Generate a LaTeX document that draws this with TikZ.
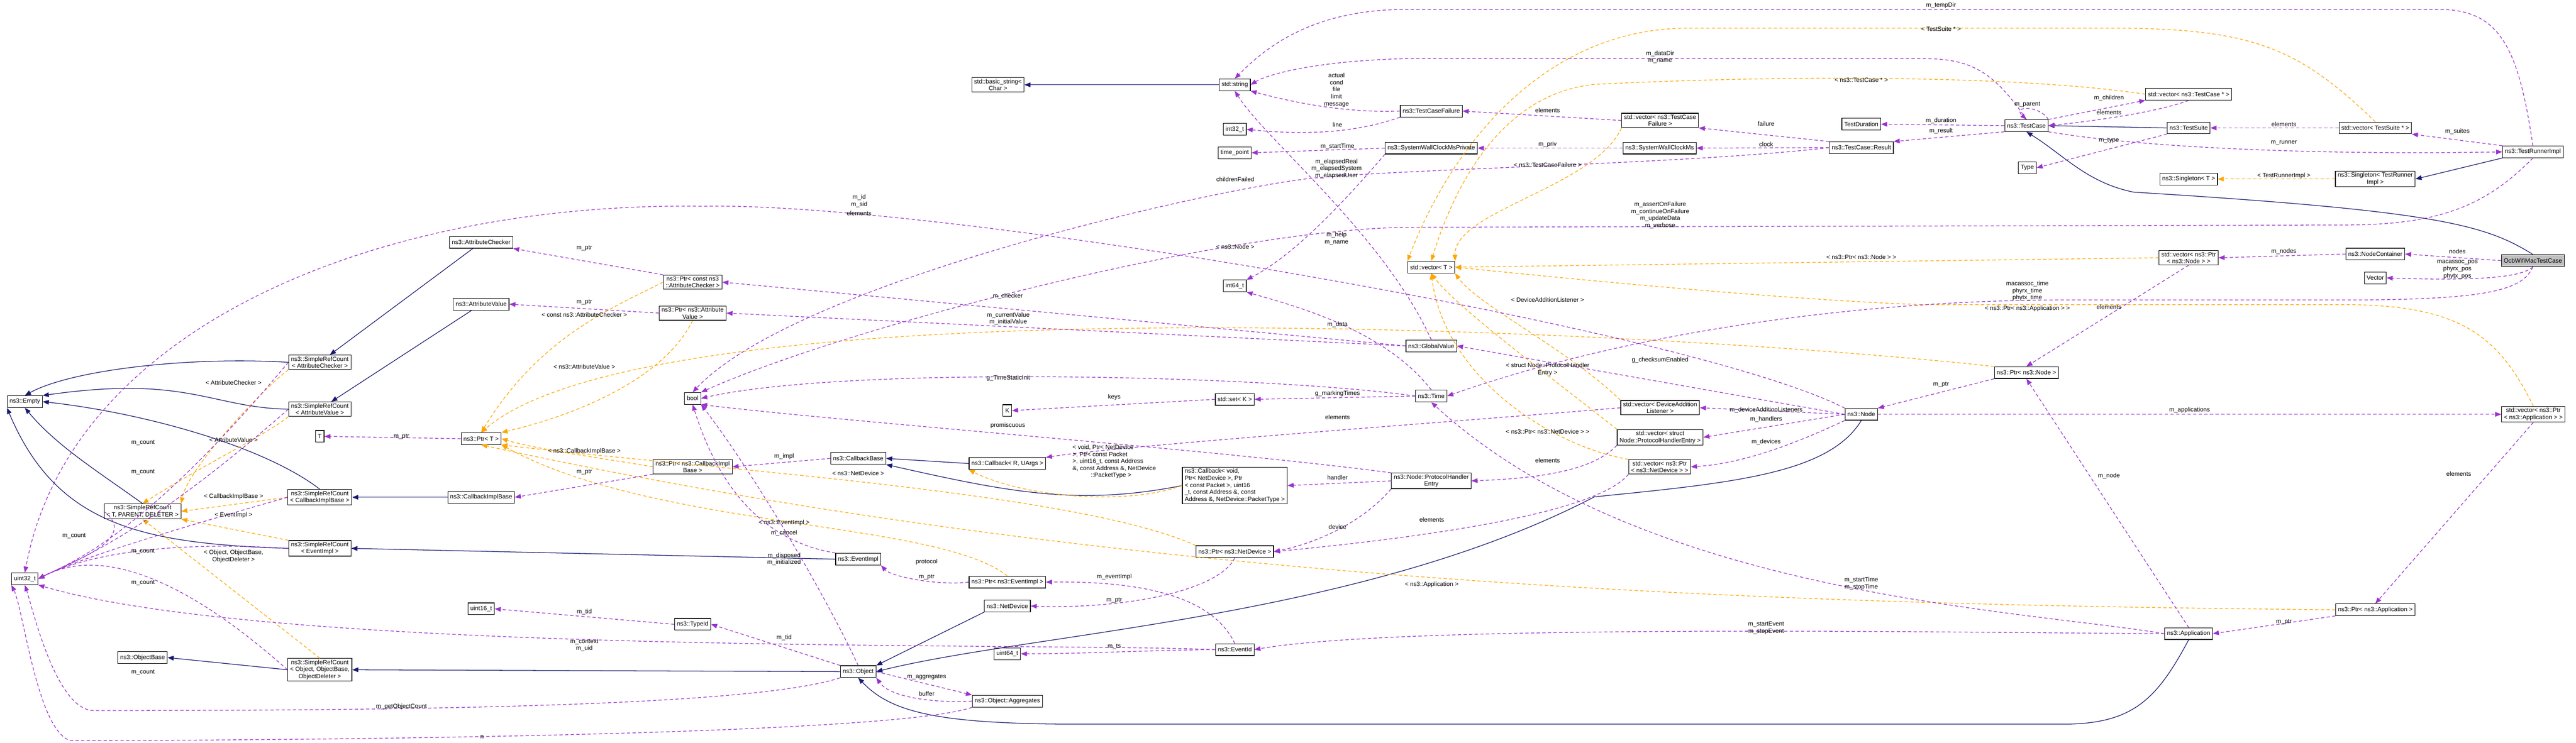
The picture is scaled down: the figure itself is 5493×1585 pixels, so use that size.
\documentclass[tikz,border=0pt]{standalone}
\usepackage{fontspec}
\setmainfont{Liberation Sans}
\usetikzlibrary{arrows.meta}
\definecolor{inhc}{HTML}{191970}
\definecolor{usec}{HTML}{9A32CD}
\definecolor{tplc}{HTML}{FFA500}
\tikzset{
 box/.style={draw=black,line width=1.3pt,fill=white,inner xsep=5pt,inner ysep=3pt,minimum height=25pt,align=center,font=\fontsize{13}{15}\selectfont},
 lbl/.style={inner sep=1pt,align=center,font=\fontsize{13}{15}\selectfont},
 inh/.style={draw=inhc,line width=1.4pt,-{Triangle[length=13pt,width=10pt]}},
 use/.style={draw=usec,line width=1.4pt,dash pattern=on 7pt off 5pt,-{Triangle[length=13pt,width=10pt]}},
 tpl/.style={draw=tplc,line width=1.4pt,dash pattern=on 7pt off 5pt,-{Triangle[length=13pt,width=10pt]}}
}
\begin{document}
\begin{tikzpicture}[x=1pt,y=-1pt]
\useasboundingbox (0,0) rectangle (5493,1585);
% nodes
\node[box] (empty) at (53,857) {ns3::Empty};
\node[box] (u32) at (53,1235) {uint32\_t};
\node[box] (srcac) at (682,773) {ns3::SimpleRefCount\\ < AttributeChecker >};
\node[box] (srcav) at (682,873) {ns3::SimpleRefCount\\ < AttributeValue >};
\node[box] (srccib) at (682,1061) {ns3::SimpleRefCount\\ < CallbackImplBase >};
\node[box] (srcev) at (682,1170) {ns3::SimpleRefCount\\ < EventImpl >};
\node[box] (srcobj) at (682,1429) {ns3::SimpleRefCount\\ < Object, ObjectBase,\\ ObjectDeleter >};
\node[box] (srctpd) at (304,1091) {ns3::SimpleRefCount\\ < T, PARENT, DELETER >};
\node[box] (objbase) at (304,1403) {ns3::ObjectBase};
\node[box] (tT) at (682,931) {T};
\node[box] (ptrT) at (1026,936) {ns3::Ptr< T >};
\node[box] (ac) at (1026,517) {ns3::AttributeChecker};
\node[box] (av) at (1026,649) {ns3::AttributeValue};
\node[box] (cib) at (1026,1061) {ns3::CallbackImplBase};
\node[box] (u16) at (1026,1299) {uint16\_t};
\node[box] (ptrac) at (1477,602) {ns3::Ptr< const ns3\\ ::AttributeChecker >};
\node[box] (ptrav) at (1477,668) {ns3::Ptr< ns3::Attribute\\ Value >};
\node[box] (bool) at (1477,850) {bool};
\node[box] (ptrcib) at (1477,996) {ns3::Ptr< ns3::CallbackImpl\\ Base >};
\node[box] (typeid) at (1477,1332) {ns3::TypeId};
\node[box] (cbbase) at (1830,978) {ns3::CallbackBase};
\node[box] (evimpl) at (1830,1193) {ns3::EventImpl};
\node[box] (object) at (1830,1433) {ns3::Object};
\node[box] (K) at (2148,876) {K};
\node[box] (cbR) at (2148,989) {ns3::Callback< R, UArgs >};
\node[box] (ptrev) at (2148,1242) {ns3::Ptr< ns3::EventImpl >};
\node[box] (netdev) at (2148,1293) {ns3::NetDevice};
\node[box] (u64) at (2148,1395) {uint64\_t};
\node[box] (aggr) at (2148,1496) {ns3::Object::Aggregates};
\node[box] (bstr) at (2128,181) {std::basic\_string<\\ Char >};
\node[box] (str) at (2633,181) {std::string};
\node[box] (i32) at (2633,276) {int32\_t};
\node[box] (tp) at (2633,326) {time\_point};
\node[box] (i64) at (2633,610) {int64\_t};
\node[box] (setK) at (2633,852) {std::set< K >};
\node[box,align=left] (cbv) at (2633,1036) {ns3::Callback< void,\\ Ptr< NetDevice >, Ptr\\ < const Packet >, uint16\\ \_t, const Address \&, const\\ Address \&, NetDevice::PacketType >};
\node[box] (ptrnd) at (2633,1177) {ns3::Ptr< ns3::NetDevice >};
\node[box] (evid) at (2633,1386) {ns3::EventId};
\node[box] (tcf) at (3052,237) {ns3::TestCaseFailure};
\node[box] (swcp) at (3052,316) {ns3::SystemWallClockMsPrivate};
\node[box] (vecT) at (3052,570) {std::vector< T >};
\node[box] (gv) at (3052,738) {ns3::GlobalValue};
\node[box] (time) at (3052,845) {ns3::Time};
\node[box] (phe) at (3052,1026) {ns3::Node::ProtocolHandler\\ Entry};
\node[box] (vtcf) at (3540,257) {std::vector< ns3::TestCase\\ Failure >};
\node[box] (swc) at (3539,316) {ns3::SystemWallClockMs};
\node[box] (vdal) at (3540,870) {std::vector< DeviceAddition\\ Listener >};
\node[box] (vphe) at (3540,933) {std::vector< struct\\ Node::ProtocolHandlerEntry >};
\node[box] (vpnd) at (3539,996) {std::vector< ns3::Ptr\\ < ns3::NetDevice > >};
\node[box] (node) at (3969,884) {ns3::Node};
\node[box] (tdur) at (3969,265) {TestDuration};
\node[box] (tres) at (3969,315) {ns3::TestCase::Result};
\node[box] (tcase) at (4321,268) {ns3::TestCase};
\node[box] (type) at (4323,358) {Type};
\node[box] (ptrnode) at (4321,795) {ns3::Ptr< ns3::Node >};
\node[box] (vtc) at (4667,201) {std::vector< ns3::TestCase * >};
\node[box] (tsuite) at (4667,273) {ns3::TestSuite};
\node[box] (singT) at (4667,382) {ns3::Singleton< T >};
\node[box] (vpn) at (4667,550) {std::vector< ns3::Ptr\\ < ns3::Node > >};
\node[box] (app) at (4667,1352) {ns3::Application};
\node[box] (vts) at (5065,273) {std::vector< TestSuite * >};
\node[box] (singTR) at (5065,382) {ns3::Singleton< TestRunner\\ Impl >};
\node[box] (nc) at (5065,542) {ns3::NodeContainer};
\node[box] (vec) at (5065,593) {Vector};
\node[box] (ptrapp) at (5065,1301) {ns3::Ptr< ns3::Application >};
\node[box] (tri) at (5401,324) {ns3::TestRunnerImpl};
\node[box,fill=black!25] (ocb) at (5401,556) {OcbWifiMacTestCase};
\node[box] (vpa) at (5402,884) {std::vector< ns3::Ptr\\ < ns3::Application > >};
% inheritance
\draw[inh] (srcac.west) .. controls (400,760) and (150,790) .. (empty.north);
\draw[inh] (srcav.west) .. controls (450,870) and (400,800) .. (empty.north east);
\draw[inh] (srccib.north) .. controls (560,950) and (300,880) .. (empty.east);
\draw[inh] (srctpd.north) .. controls (200,1000) and (120,950) .. (empty.south);
\draw[inh] (srcev.west) .. controls (300,1160) and (120,1120) .. (empty.south west);
\draw[inh] (srcobj.west) -- (objbase.east);
\draw[inh] (ac) -- (srcac);
\draw[inh] (av) -- (srcav);
\draw[inh] (cib) -- (srccib);
\draw[inh] (evimpl.west) -- (srcev.east);
\draw[inh] (object.west) -- (srcobj.east);
\draw[inh] (cbR.west) -- (cbbase.east);
\draw[inh] (cbv.west) .. controls (2300,1080) and (2150,1050) .. (cbbase.south east);
\draw[inh] (netdev.south west) -- (object.north east);
\draw[inh] (node.south) .. controls (3900,1010) and (3700,1030) .. (3400,1060) .. controls (2900,1320) and (2200,1350) .. (object.east);
\draw[inh] (app.south) .. controls (4600,1490) and (4550,1545) .. (4400,1545) -- (2300,1545) .. controls (2000,1545) and (1900,1520) .. (object.south);
\draw[inh] (tsuite.west) -- (tcase.east);
\draw[inh] (ocb.north) .. controls (5300,480) and (5200,450) .. (4550,410) .. controls (4450,390) and (4400,330) .. (tcase.south);
\draw[inh] (tri.south west) -- (singTR.east);
\draw[inh] (str.west) -- (bstr.east);
% templates
\draw[tpl] (srcac.south west) .. controls (560,830) and (400,1000) .. (srctpd.north east);
\draw[tpl] (srcav.south west) .. controls (580,920) and (420,1000) .. (srctpd.north);
\draw[tpl] (srccib.west) -- (srctpd.east);
\draw[tpl] (srcev.north west) -- (srctpd.south east);
\draw[tpl] (srcobj.north) -- (srctpd.south);
\draw[tpl] (ptrac.west) .. controls (1300,660) and (1150,720) .. (ptrT.north);
\draw[tpl] (ptrav.south) .. controls (1420,800) and (1250,880) .. (ptrT.north east);
\draw[tpl] (ptrcib.west) .. controls (1300,980) and (1150,960) .. (ptrT.east);
\draw[tpl] (ptrev.north) .. controls (2000,1110) and (1400,1130) .. (ptrT.south east);
\draw[tpl] (ptrnd.north west) .. controls (2300,1050) and (1500,1000) .. (ptrT.south east);
\draw[tpl] (ptrnode.north west) .. controls (3500,700) and (1400,600) .. (ptrT.north);
\draw[tpl] (ptrapp.west) .. controls (3800,1290) and (2400,1250) .. (ptrT.south);
\draw[tpl] (cbv.west) .. controls (2400,1080) and (2180,1060) .. (cbR.south west);
\draw[tpl] (vtcf.south west) .. controls (3400,400) and (3100,450) .. (vecT.north east);
\draw[tpl] (vtc.west) .. controls (4300,160) and (3800,160) .. (3400,180) .. controls (3200,200) and (3100,400) .. (vecT.north);
\draw[tpl] (vts.north) .. controls (4900,100) and (4800,60) .. (4500,60) -- (3600,60) .. controls (3300,60) and (3100,300) .. (vecT.north west);
\draw[tpl] (vpn.west) -- (vecT.east);
\draw[tpl] (vdal.north west) .. controls (3350,750) and (3150,650) .. (vecT.south east);
\draw[tpl] (vphe.north west) .. controls (3300,800) and (3100,650) .. (vecT.south);
\draw[tpl] (vpnd.north west) .. controls (3300,950) and (3080,800) .. (vecT.south);
\draw[tpl] (vpa.north) .. controls (5330,720) and (5250,650) .. (5000,650) -- (4100,650) .. controls (3800,640) and (3300,590) .. (vecT.east);
\draw[tpl] (singTR.west) -- (singT.east);
% usage
\foreach \s in {srcac,srcav,srccib,srctpd,srcev,srcobj} \draw[use] (\s.west) .. controls (300,1150) and (150,1200) .. (u32.east);
\draw[use] (object.south west) .. controls (1600,1510) and (800,1516) .. (200,1516) .. controls (120,1516) and (70,1300) .. (u32.south);
\draw[use] (aggr.south west) .. controls (1900,1570) and (600,1580) .. (150,1580) .. controls (80,1560) and (50,1300) .. (u32.south west);
\draw[use] (evid.west) .. controls (2200,1370) and (600,1400) .. (u32.south east);
\draw[use] (node.north west) .. controls (3600,700) and (2000,430) .. (1500,440) .. controls (800,430) and (150,700) .. (u32.north);
\draw[use] (typeid.west) -- (u16.east);
\draw[use] (evid.west) .. controls (2500,1386) and (2300,1395) .. (u64.east);
\draw[use] (object.north west) -- (typeid.east);
\draw[use] (ptrT.west) -- (tT.east);
\draw[use] (ptrac.north west) -- (ac.south east);
\draw[use] (ptrav.west) -- (av.east);
\draw[use] (ptrcib.south west) -- (cib.east);
\draw[use] (ptrev.west) .. controls (2000,1250) and (1900,1230) .. (evimpl.south east);
\draw[use] (ptrnd.south) .. controls (2600,1260) and (2400,1300) .. (netdev.east);
\draw[use] (ptrnode.south west) -- (node.north east);
\draw[use] (ptrapp.south west) -- (app.east);
\draw[use] (cbbase.west) -- (ptrcib.east);
\draw[use] (evid.north) .. controls (2580,1260) and (2400,1240) .. (ptrev.east);
\draw[use] (evimpl.north west) .. controls (1600,1150) and (1520,1000) .. (bool.south);
\draw[use] (object.north) .. controls (1750,1250) and (1600,1000) .. (bool.south east);
\draw[use] (object.east) -- (aggr.north west);
\draw[use] (aggr.west) .. controls (2000,1500) and (1900,1490) .. (object.south east);
\draw[use] (gv.west) -- (ptrac.east);
\draw[use] (gv.west) -- (ptrav.east);
\draw[use] (gv.north) .. controls (2950,500) and (2700,300) .. (str.south);
\draw[use] (time.west) .. controls (2700,800) and (1800,780) .. (bool.east);
\draw[use] (time.west) -- (setK.east);
\draw[use] (time.north) .. controls (2950,700) and (2750,650) .. (i64.south east);
\draw[use] (setK.west) -- (K.east);
\draw[use] (phe.north west) .. controls (2600,960) and (1800,900) .. (bool.south east);
\draw[use] (phe.west) -- (cbv.east);
\draw[use] (phe.south west) .. controls (2900,1120) and (2800,1160) .. (ptrnd.east);
\draw[use] (node.west) -- (gv.east);
\draw[use] (node.west) -- (vdal.east);
\draw[use] (node.west) -- (vphe.east);
\draw[use] (node.south west) .. controls (3800,960) and (3700,990) .. (vpnd.east);
\draw[use] (node.east) -- (vpa.west);
\draw[use] (vdal.west) .. controls (3100,900) and (2400,950) .. (cbR.north east);
\draw[use] (vphe.south west) .. controls (3400,1000) and (3300,1020) .. (phe.east);
\draw[use] (vpnd.south west) .. controls (3400,1100) and (3000,1150) .. (ptrnd.east);
\draw[use] (vpa.south) -- (ptrapp.north);
\draw[use] (vpn.south) -- (ptrnode.north);
\draw[use] (app.north) -- (ptrnode.south);
\draw[use] (app.west) .. controls (4300,1300) and (3500,1270) .. (time.south);
\draw[use] (app.west) .. controls (4200,1350) and (3000,1330) .. (evid.east);
\draw[use] (tcf.west) .. controls (2900,240) and (2800,230) .. (str.south east);
\draw[use] (tcf.south west) .. controls (2900,280) and (2800,290) .. (i32.east);
\draw[use] (vtcf.west) -- (tcf.east);
\draw[use] (swcp.west) -- (tp.east);
\draw[use] (swcp.south west) .. controls (2850,450) and (2750,550) .. (i64.north east);
\draw[use] (swc.west) -- (swcp.east);
\draw[use] (tres.north west) -- (vtcf.south east);
\draw[use] (tres.west) -- (swc.east);
\draw[use] (tres.west) .. controls (3600,350) and (3000,360) .. (2800,380) .. controls (2600,400) and (1700,600) .. (bool.north);
\draw[use] (tcase.west) -- (tdur.east);
\draw[use] (tcase.south west) -- (tres.north east);
\draw[use] (tcase.north east) .. controls (4350,225) and (4290,225) .. (tcase.north);
\draw[use] (tcase.north east) -- (vtc.south west);
\draw[use] (vtc.south) .. controls (4600,240) and (4450,260) .. (tcase.east);
\draw[use] (tcase.north) .. controls (4250,150) and (4200,125) .. (4100,125) -- (3000,125) .. controls (2800,130) and (2700,160) .. (str.east);
\draw[use] (tcase.south east) .. controls (4600,320) and (5000,330) .. (tri.west);
\draw[use] (tsuite.south west) -- (type.east);
\draw[use] (vts.west) -- (tsuite.east);
\draw[use] (tri.north west) -- (vts.south east);
\draw[use] (tri.north) .. controls (5370,100) and (5330,20) .. (5200,20) -- (3000,20) .. controls (2800,20) and (2700,100) .. (str.north);
\draw[use] (tri.south) .. controls (5300,440) and (5200,480) .. (5000,480) -- (3000,485) .. controls (2600,490) and (1800,700) .. (bool.north east);
\draw[use] (ocb.west) -- (nc.east);
\draw[use] (nc.west) -- (vpn.east);
\draw[use] (ocb.south) .. controls (5380,590) and (5300,600) .. (vec.east);
\draw[use] (ocb.south) .. controls (5380,620) and (5300,640) .. (5000,640) -- (4400,640) .. controls (4000,640) and (3500,700) .. (time.east);
% template labels
\node[lbl] (l1) at (498,816) {< AttributeChecker >};
\node[lbl] (l2) at (498,939) {< AttributeValue >};
\node[lbl] (l3) at (498,1060) {< CallbackImplBase >};
\node[lbl] (l4) at (498,1099) {< EventImpl >};
\node[lbl] (l5) at (498,1187) {< Object, ObjectBase,\\ ObjectDeleter >};
\node[lbl] (l6) at (1246,672) {< const ns3::AttributeChecker >};
\node[lbl] (l7) at (1246,783) {< ns3::AttributeValue >};
\node[lbl] (l8) at (1246,963) {< ns3::CallbackImplBase >};
\node[lbl] (l9) at (1672,1116) {< ns3::EventImpl >};
\node[lbl] (l10) at (1830,1010) {< ns3::NetDevice >};
\node[lbl] (l11) at (2634,527) {< ns3::Node >};
\node[lbl] (l12) at (3053,1247) {< ns3::Application >};
\node[lbl,align=left] (l13) at (2376,985) {< void, Ptr< NetDevice\\ >, Ptr< const Packet\\ >, uint16\_t, const Address\\ \&, const Address \&, NetDevice\\ \hphantom{xxxxxx}::PacketType >};
\node[lbl] (l14) at (3300,352) {< ns3::TestCaseFailure >};
\node[lbl] (l15) at (3969,171) {< ns3::TestCase * >};
\node[lbl] (l16) at (4139,62) {< TestSuite * >};
\node[lbl] (l17) at (3969,549) {< ns3::Ptr< ns3::Node > >};
\node[lbl] (l18) at (3300,640) {< DeviceAdditionListener >};
\node[lbl] (l19) at (3300,788) {< struct Node::ProtocolHandler\\ Entry >};
\node[lbl] (l20) at (3300,921) {< ns3::Ptr< ns3::NetDevice > >};
\node[lbl] (l21) at (4323,659) {< ns3::Ptr< ns3::Application > >};
\node[lbl] (l22) at (4870,375) {< TestRunnerImpl >};
% usage labels
\node[lbl] at (305,945) {m\_count};
\node[lbl] at (305,1007) {m\_count};
\node[lbl] at (305,996) {};
\node[lbl] at (305,1176) {m\_count};
\node[lbl] at (158,1143) {m\_count};
\node[lbl] at (305,1243) {m\_count};
\node[lbl] at (305,1435) {m\_count};
\node[lbl] at (856,1508) {m\_getObjectCount};
\node[lbl] at (1028,1572) {n};
\node[lbl] at (856,931) {m\_ptr};
\node[lbl] at (1246,529) {m\_ptr};
\node[lbl] at (1246,645) {m\_ptr};
\node[lbl] at (1246,1007) {m\_ptr};
\node[lbl] at (1976,1231) {m\_ptr};
\node[lbl] at (2376,1281) {m\_ptr};
\node[lbl] at (4139,820) {m\_ptr};
\node[lbl] at (4870,1327) {m\_ptr};
\node[lbl] at (1832,429) {m\_id\\ m\_sid};
\node[lbl] at (1832,455) {elements};
\node[lbl] at (2149,632) {m\_checker};
\node[lbl] at (2150,680) {m\_currentValue\\ m\_initialValue};
\node[lbl] at (2150,807) {g\_TimeStaticInit};
\node[lbl] at (2149,908) {promiscuous};
\node[lbl] at (1672,974) {m\_impl};
\node[lbl] at (1672,1137) {m\_cancel};
\node[lbl] at (1672,1193) {m\_disposed\\ m\_initialized};
\node[lbl] at (1976,1199) {protocol};
\node[lbl] at (1246,1306) {m\_tid};
\node[lbl] at (1672,1361) {m\_tid};
\node[lbl] at (1246,1377) {m\_context\\ m\_uid};
\node[lbl] at (1976,1445) {m\_aggregates};
\node[lbl] at (1976,1480) {buffer};
\node[lbl] at (2850,192) {actual\\ cond\\ file\\ limit\\ message};
\node[lbl] at (3300,235) {elements};
\node[lbl] at (2852,266) {line};
\node[lbl] at (2852,312) {m\_startTime};
\node[lbl] at (3300,308) {m\_priv};
\node[lbl] at (2850,360) {m\_elapsedReal\\ m\_elapsedSystem\\ m\_elapsedUser};
\node[lbl] at (2634,383) {childrenFailed};
\node[lbl] at (3540,122) {m\_dataDir\\ m\_name};
\node[lbl] at (3540,459) {m\_assertOnFailure\\ m\_continueOnFailure\\ m\_updateData\\ m\_verbose};
\node[lbl] at (2850,509) {m\_help\\ m\_name};
\node[lbl] at (2852,692) {m\_data};
\node[lbl] at (3540,768) {g\_checksumEnabled};
\node[lbl] at (2852,840) {g\_markingTimes};
\node[lbl] at (2376,848) {keys};
\node[lbl] at (2852,890) {elements};
\node[lbl] at (3300,982) {elements};
\node[lbl] at (2852,1019) {handler};
\node[lbl] at (2852,1124) {device};
\node[lbl] at (3053,1109) {elements};
\node[lbl] at (2376,1231) {m\_eventImpl};
\node[lbl] at (2376,1380) {m\_ts};
\node[lbl] at (4139,12) {m\_tempDir};
\node[lbl] at (4497,209) {m\_children};
\node[lbl] at (4323,223) {m\_parent};
\node[lbl] at (4497,240) {elements};
\node[lbl] at (4139,257) {m\_duration};
\node[lbl] at (4139,279) {m\_result};
\node[lbl] at (3766,264) {failure};
\node[lbl] at (3766,308) {clock};
\node[lbl] at (4497,300) {m\_type};
\node[lbl] at (4870,265) {elements};
\node[lbl] at (5240,281) {m\_suites};
\node[lbl] at (4870,305) {m\_runner};
\node[lbl] at (5240,536) {nodes};
\node[lbl] at (4870,536) {m\_nodes};
\node[lbl] at (5240,575) {macassoc\_pos\\ phyrx\_pos\\ phytx\_pos};
\node[lbl] at (4323,621) {macassoc\_time\\ phyrx\_time\\ phytx\_time};
\node[lbl] at (4497,655) {elements};
\node[lbl] at (3766,875) {m\_deviceAdditionListeners};
\node[lbl] at (3766,895) {m\_handlers};
\node[lbl] at (3766,943) {m\_devices};
\node[lbl] at (4669,875) {m\_applications};
\node[lbl] at (4497,1015) {m\_node};
\node[lbl] at (5243,1011) {elements};
\node[lbl] at (3969,1245) {m\_startTime\\ m\_stopTime};
\node[lbl] at (3766,1340) {m\_startEvent\\ m\_stopEvent};
\end{tikzpicture}
\end{document}
